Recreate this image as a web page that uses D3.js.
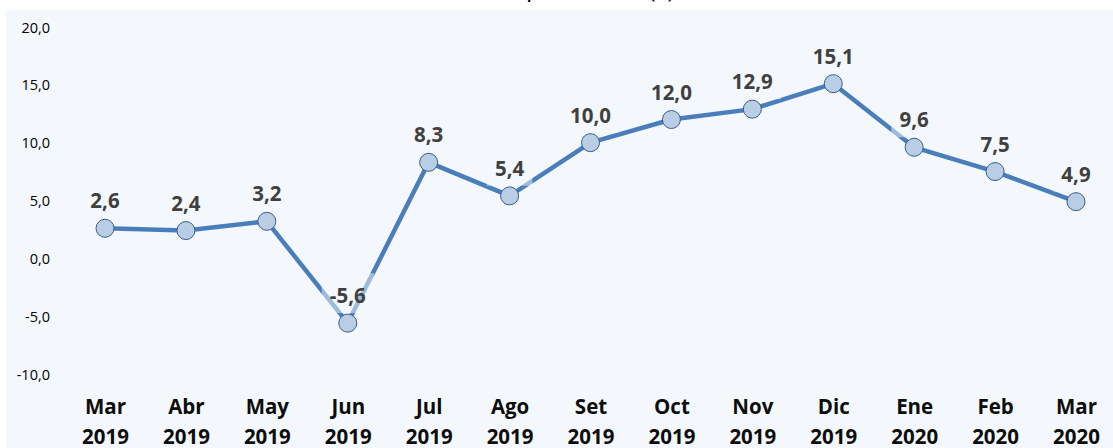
<!DOCTYPE html>
<html>
<head>
<meta charset="utf-8">
<script src="https://cdn.jsdelivr.net/npm/d3@7"></script>
<style>
body { margin: 0; background: #fff; }
svg { display: block; font-family: "Open Sans", sans-serif; }
</style>
</head>
<body>
<div id="canvas"></div>
<script>
// ----------------------------------------------------------
// DATA -----------------------------------------------------
// ----------------------------------------------------------
var months = ["Mar", "Abr", "May", "Jun", "Jul", "Ago", "Set", "Oct", "Nov", "Dic", "Ene", "Feb", "Mar"];
var years = ["2019", "2019", "2019", "2019", "2019", "2019", "2019", "2019", "2019", "2019", "2020", "2020", "2020"];
var values = [2.6, 2.4, 3.2, -5.6, 8.3, 5.4, 10.0, 12.0, 12.9, 15.1, 9.6, 7.5, 4.9];
var y_ticks = [-10, -5, 0, 5, 10, 15, 20];
var text_title = "Variación porcentual anual (%)";

var keys = months.map(function(d, i) { return i; });

// ----------------------------------------------------------
// STRUCTURE ------------------------------------------------
// ----------------------------------------------------------
var width = 1113, height = 448;
var color_bg = "#f4f8fc";
var color_line = "#4a7ebb";
var color_dot = "#b9cde5";
var color_dot_stroke = "#385d8a";
var color_label = "#404040";

var svg = d3.select("#canvas").append("svg")
.attr("width", width)
.attr("height", height);

// plot area background
svg.append("rect")
.attr("x", 6)
.attr("y", 10)
.attr("width", width - 6)
.attr("height", height - 10)
.style("fill", color_bg);

// title (cut off at the top, only descenders show)
svg.append("text")
.attr("x", 565)
.attr("y", -1)
.attr("text-anchor", "middle")
.style("font-size", "14px")
.style("font-weight", "bold")
.style("fill", "#000")
.text(text_title);

// ----------------------------------------------------------
// SCALES ---------------------------------------------------
// ----------------------------------------------------------
var xScale = d3.scalePoint()
.domain(keys)
.range([105, 1076]);

var yScale = d3.scaleLinear()
.domain([-10, 20])
.range([374, 27]);

// comma decimals, plain hyphen for negatives
var fmt = function(v) { return d3.format(".1f")(v).replace(".", ",").replace("\u2212", "-"); };

// ----------------------------------------------------------
// AXES -----------------------------------------------------
// ----------------------------------------------------------
var yAxis = d3.axisLeft(yScale)
.tickValues(y_ticks)
.tickSize(0)
.tickPadding(0)
.tickFormat(fmt);

svg.append("g")
.attr("transform", "translate(50,0)")
.call(function(g) {
g.call(yAxis);
g.select(".domain").remove();
g.selectAll(".tick text")
.attr("dy", "0.35em")
.style("font-family", "'Open Sans', sans-serif")
.style("font-size", "14.5px")
.style("fill", "#000");
});

var xAxis = d3.axisBottom(xScale)
.tickSize(0)
.tickFormat(function() { return ""; });

svg.append("g")
.attr("transform", "translate(0,414)")
.call(function(g) {
g.call(xAxis);
g.select(".domain").remove();
g.selectAll(".tick text").remove();
g.selectAll(".tick").each(function(d) {
var t = d3.select(this).append("text")
.attr("text-anchor", "middle")
.style("font-family", "'Open Sans', sans-serif")
.style("font-size", "20.5px")
.style("font-weight", "bold")
.style("fill", "#0d0d0d");
t.append("tspan").attr("x", 0).attr("y", 0).text(months[d]);
t.append("tspan").attr("x", 0).attr("y", 30).text(years[d]);
});
});

// ----------------------------------------------------------
// LINE -----------------------------------------------------
// ----------------------------------------------------------
var line = d3.line()
.x(function(d, i) { return xScale(i); })
.y(function(d) { return yScale(d); });

svg.append("path")
.datum(values)
.attr("d", line)
.style("fill", "none")
.style("stroke", color_line)
.style("stroke-width", 4.5)
.style("stroke-linejoin", "round");

// labels with semi-transparent box
var labels = svg.selectAll(".label")
.data(values)
.enter().append("g")
.attr("class", "label")
.attr("transform", function(d, i) { return "translate(" + xScale(i) + "," + (yScale(d) - 20) + ")"; });

labels.append("text")
.attr("text-anchor", "middle")
.style("font-size", "20.5px")
.style("font-weight", "bold")
.style("fill", color_label)
.text(function(d) { return fmt(d); })
.each(function() {
var w = this.getBBox().width;
d3.select(this.parentNode).insert("rect", "text")
.attr("x", -w / 2 - 8)
.attr("y", -30)
.attr("width", w + 16)
.attr("height", 40)
.style("fill", color_bg)
.style("opacity", 0.5);
});

// markers
svg.selectAll(".dot")
.data(values)
.enter().append("circle")
.attr("class", "dot")
.attr("cx", function(d, i) { return xScale(i); })
.attr("cy", function(d) { return yScale(d); })
.attr("r", 9)
.style("fill", color_dot)
.style("stroke", color_dot_stroke)
.style("stroke-width", 1);
</script>
</body>
</html>
